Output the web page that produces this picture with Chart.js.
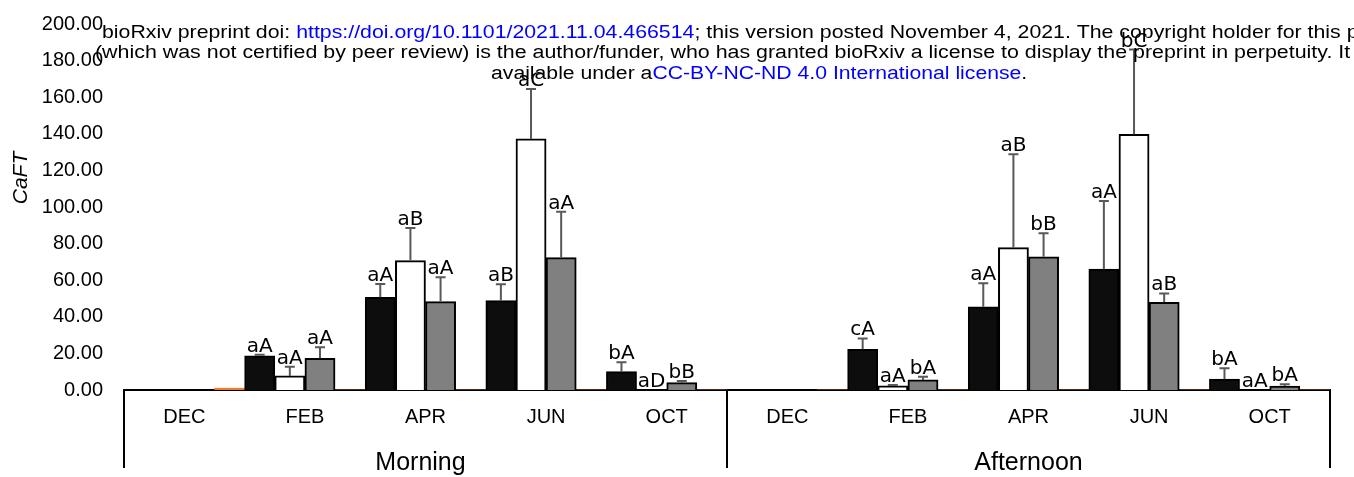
<!DOCTYPE html>
<html>
<head>
<meta charset="utf-8">
<script src="https://cdn.jsdelivr.net/npm/chart.js@4.4.1/dist/chart.umd.min.js"></script>
<style>
  html, body { margin: 0; padding: 0; background: #fff; overflow: hidden; }
  #wrap { position: relative; width: 1354px; height: 477px; }
</style>
</head>
<body>
<div id="wrap"><canvas id="c"></canvas></div>
<script>
// ---- data ----
const categories = ['DEC', 'FEB', 'APR', 'JUN', 'OCT', 'DEC', 'FEB', 'APR', 'JUN', 'OCT'];
const groups = ['Morning', 'Afternoon'];
const yTicks = [0, 20, 40, 60, 80, 100, 120, 140, 160, 180, 200];

const blackValues = [0, 18.7, 50.7, 48.8, 10.0, 0, 22.2, 45.5, 66.1, 6.0];
const whiteValues = [0, 7.7, 70.7, 137.2, 0, 0, 2.3, 77.8, 139.7, 0];
const grayValues  = [0, 17.3, 48.3, 72.3, 4.0, 0, 5.5, 72.8, 47.9, 2.2];
const orangeValues = [1.0, 0, 0, 0, 0, 0, 0, 0, 0, 0];

const blackErrors = [0, 0.5, 7.2, 9.0, 5.1, 0, 6.0, 12.8, 37.2, 5.9];
const whiteErrors = [0, 5.0, 17.8, 27.3, 0, 0, 0.4, 51.0, 46.3, 0];
const grayErrors  = [0, 6.0, 13.3, 25.1, 0.9, 0, 1.8, 12.8, 4.9, 0.9];

const blackLetters = ['', 'aA', 'aA', 'aB', 'bA', '', 'cA', 'aA', 'aA', 'bA'];
const whiteLetters = ['', 'aA', 'aB', 'aC', 'aD', '', 'aA', 'aB', 'bC', 'aA'];
const grayLetters  = ['', 'aA', 'aA', 'aA', 'bB', '', 'bA', 'bB', 'aB', 'bA'];

const headerLines = [
  [['bioRxiv preprint doi: ', '#000'], ['https://doi.org/10.1101/2021.11.04.466514', '#0000ff'], ['; this version posted November 4, 2021. The copyright holder for this preprint', '#000']],
  [['(which was not certified by peer review) is the author/funder, who has granted bioRxiv a license to display the preprint in perpetuity. It is made', '#000']],
  [['available under a', '#000'], ['CC-BY-NC-ND 4.0 International license', '#0000ff'], ['.', '#000']]
];

const errorSets = [blackErrors, whiteErrors, grayErrors];
const letterSets = [blackLetters, whiteLetters, grayLetters];

const FONT = '"Liberation Sans", Arial, sans-serif';

const overlayPlugin = {
  id: 'overlay',
  afterDatasetsDraw(chart) {
    const ctx = chart.ctx;
    const y = chart.scales.y;
    for (let d = 0; d < 3; d++) {
      const meta = chart.getDatasetMeta(d);
      const vals = chart.data.datasets[d].data;
      meta.data.forEach((bar, i) => {
        const v = vals[i];
        const e = errorSets[d][i];
        const top = y.getPixelForValue(v);
        const capY = y.getPixelForValue(v + e);
        if (e > 0) {
          ctx.save();
          ctx.strokeStyle = '#595959';
          ctx.lineWidth = 2;
          ctx.beginPath();
          ctx.moveTo(bar.x, top);
          ctx.lineTo(bar.x, capY);
          ctx.moveTo(bar.x - 5, capY);
          ctx.lineTo(bar.x + 5, capY);
          ctx.stroke();
          ctx.restore();
        }
        const txt = letterSets[d][i];
        if (txt) {
          ctx.save();
          ctx.fillStyle = '#000';
          ctx.font = '20px "DejaVu Sans", sans-serif';
          ctx.textAlign = 'center';
          ctx.textBaseline = 'alphabetic';
          ctx.fillText(txt, bar.x, capY - 3);
          ctx.restore();
        }
      });
    }
  },
  afterDraw(chart) {
    const ctx = chart.ctx;
    const x = chart.scales.x;
    const area = chart.chartArea;
    const n = categories.length;
    const half = (x.getPixelForTick(1) - x.getPixelForTick(0)) / 2;
    const bounds = [x.getPixelForTick(0) - half, x.getPixelForTick(4) + half, x.getPixelForTick(n - 1) + half];
    ctx.save();
    ctx.strokeStyle = '#000';
    ctx.lineWidth = 2;
    bounds.forEach(bx => {
      ctx.beginPath();
      ctx.moveTo(bx, area.bottom);
      ctx.lineTo(bx, chart.height - 9);
      ctx.stroke();
    });
    ctx.fillStyle = '#000';
    ctx.font = '25px ' + FONT;
    ctx.textAlign = 'center';
    ctx.textBaseline = 'middle';
    ctx.fillText(groups[0], (bounds[0] + bounds[1]) / 2 - 5, 463);
    ctx.fillText(groups[1], (bounds[1] + bounds[2]) / 2, 463);
    // y title
    ctx.save();
    ctx.translate(21, 178);
    ctx.rotate(-Math.PI / 2);
    ctx.font = 'italic 21px ' + FONT;
    ctx.fillText('CaFT', 0, 0);
    ctx.restore();
    // header
    const starts = [102, 95, 491];
    const baselines = [38, 58, 79];
    const sizes = [21.3, 21.4, 21.2];
    headerLines.forEach((line, li) => {
      ctx.save();
      ctx.translate(starts[li], baselines[li]);
      ctx.scale(1, 0.85);
      ctx.font = sizes[li] + 'px ' + FONT;
      ctx.textAlign = 'left';
      ctx.textBaseline = 'alphabetic';
      let cx = 0;
      line.forEach(([t, col]) => {
        ctx.fillStyle = col;
        ctx.fillText(t, cx, 0);
        cx += ctx.measureText(t).width;
      });
      ctx.restore();
    });
    ctx.restore();
  }
};

const ds = (label, data, bg, border, bw) => ({
  label, data, backgroundColor: bg, borderColor: border, borderWidth: bw,
  borderSkipped: 'start', categoryPercentage: 1.0, barPercentage: 1.0
});

new Chart(document.getElementById('c'), {
  type: 'bar',
  data: {
    labels: categories,
    datasets: [
      ds('black', blackValues, '#0d0d0d', '#000', 2),
      ds('white', whiteValues, '#ffffff', '#000', 2),
      ds('gray', grayValues, '#808080', '#000', 2),
      ds('orange', orangeValues, '#ED7D31', '#ED7D31', 0)
    ]
  },
  options: {
    responsive: true,
    maintainAspectRatio: false,
    animation: false,
    events: [],
    layout: { padding: { left: 0, right: 24, top: 24, bottom: 0 } },
    plugins: { legend: { display: false }, tooltip: { enabled: false } },
    scales: {
      x: {
        type: 'category',
        offset: true,
        grid: { display: false, drawTicks: false },
        border: { display: true, color: '#000', width: 2 },
        ticks: { color: '#000', font: { family: FONT, size: 20 }, padding: 15, maxRotation: 0, autoSkip: false },
        afterFit(s) { s.height = 87; s.paddingLeft = 0; s.paddingRight = 0; }
      },
      y: {
        min: 0, max: 200,
        afterBuildTicks(s) { s.ticks = yTicks.map(v => ({ value: v })); },
        grid: { display: false, drawTicks: false },
        border: { display: false },
        ticks: { color: '#000', font: { family: FONT, size: 20 }, padding: 21, callback: v => Number(v).toFixed(2) },
        afterFit(s) { s.width = 124; s.paddingTop = 0; s.paddingBottom = 0; }
      }
    }
  },
  plugins: [overlayPlugin]
});
</script>
</body>
</html>
